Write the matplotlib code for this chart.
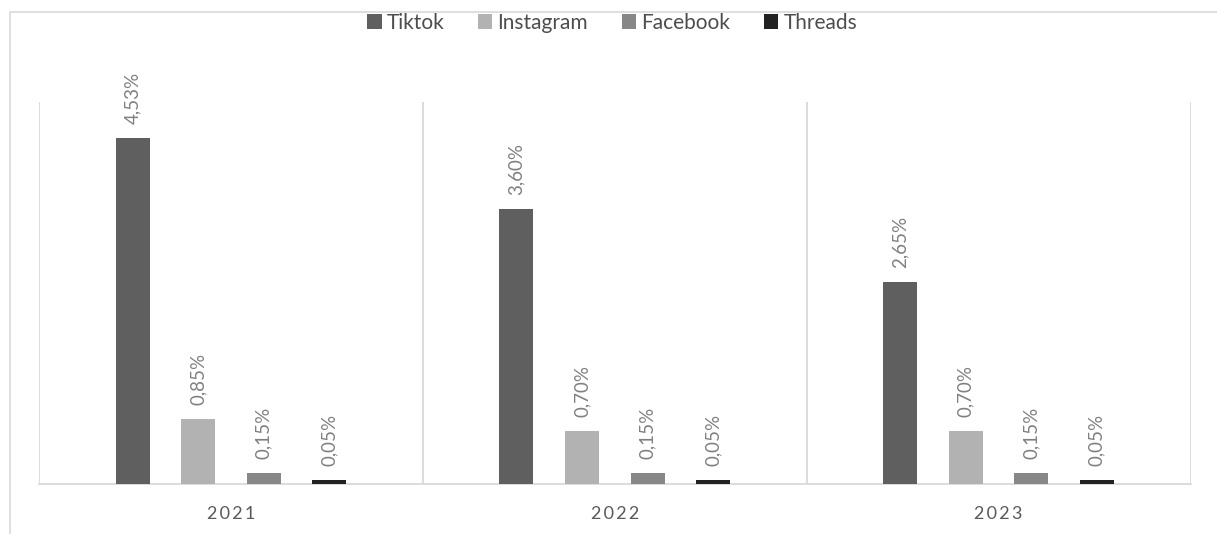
import matplotlib.pyplot as plt
import numpy as np
from matplotlib.patches import Rectangle

years = ['2021', '2022', '2023']
platforms = ['Tiktok', 'Instagram', 'Facebook', 'Threads']
tiktok = [4.53, 3.60, 2.65]
instagram = [0.85, 0.70, 0.70]
facebook = [0.15, 0.15, 0.15]
threads = [0.05, 0.05, 0.05]

series = [tiktok, instagram, facebook, threads]
colors = ['#5f5f5f', '#b2b2b2', '#878787', '#222222']

plt.rcParams['font.family'] = ['Lato', 'DejaVu Sans']

W, H = 1217, 534
fig = plt.figure(figsize=(W / 100, H / 100), dpi=100)

# chart border (cropped on the right/bottom)
fig.patches.append(Rectangle((10 / W, -0.1), 2, 1.1 - 12 / H, transform=fig.transFigure,
                             fill=False, edgecolor='#d9d9d9', lw=1.2))

left, right, top, bottom = 39, 1190.5, 102, 484
ax = fig.add_axes([left / W, 1 - bottom / H, (right - left) / W, (bottom - top) / H])

x = np.arange(len(years))
step = 0.1707
width = 0.0886
for i, (vals, name, col) in enumerate(zip(series, platforms, colors)):
    pos = x + (i - 1.5) * step
    ax.bar(pos, vals, width=width, color=col, label=name, zorder=3)
    for p, v in zip(pos, vals):
        lab = f"{v:.2f}%".replace('.', ',')
        ax.annotate(lab, (p, v), xytext=(0, 10), textcoords='offset points',
                    rotation=90, ha='center', va='bottom', fontsize=13.5, color='#808080')

ax.set_xlim(-0.5, 2.5)
ax.set_ylim(0, 5.0)
for sx in [-0.5, 0.5, 1.5, 2.5]:
    ax.axvline(sx, color='#d9d9d9', lw=1.3, zorder=1)

for s in ['top', 'right', 'left']:
    ax.spines[s].set_visible(False)
ax.spines['bottom'].set_color('#d9d9d9')
ax.spines['bottom'].set_linewidth(1.3)

ax.set_yticks([])
ax.set_xticks(x)
ax.set_xticklabels(['\u2009'.join(y) for y in years], fontsize=13, color='#595959')
ax.tick_params(axis='x', length=0, pad=16)

fig.legend(loc='center', bbox_to_anchor=(612 / W, 1 - 23 / H), ncol=4, frameon=False,
           fontsize=15, handlelength=0.7, handleheight=0.7, handletextpad=0.25,
           columnspacing=1.6, labelcolor='#4d4d4d')

fig.savefig('out.png', dpi=100)
